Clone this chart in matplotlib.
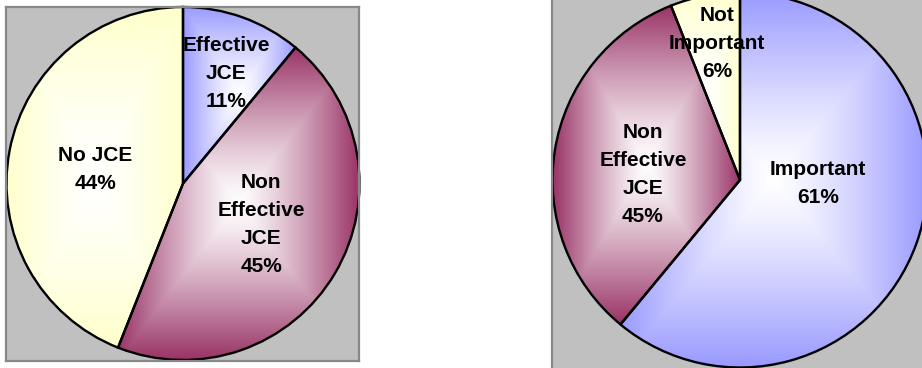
import numpy as np
import matplotlib
matplotlib.use("Agg")
import matplotlib.pyplot as plt
from matplotlib.colors import to_rgb

# data
left_names = ["Effective\nJCE", "Non\nEffective\nJCE", "No JCE"]
left_values = [11, 45, 44]
left_pct = ["11%", "45%", "44%"]

right_names = ["Important", "Non\nEffective\nJCE", "Not\nImportant"]
right_values = [61, 33, 6]
right_pct = ["61%", "45%", "6%"]   # label printed as 45% in the source

slice_colors = ["#9999FF", "#993366", "#FFFFCC"]

W, H = 922, 368
plt.rcParams['font.family'] = ['Liberation Sans', 'DejaVu Sans']


def make_axes(fig, x0, y0, x1, y1):
    # box given in image pixels (top-down), data coords = pixels (bottom-up)
    ax = fig.add_axes([x0 / W, (H - y1) / H, (x1 - x0) / W, (y1 - y0) / H])
    ax.set_facecolor("#C0C0C0")
    for s in ax.spines.values():
        s.set_color("#888888")
        s.set_linewidth(1.6)
    return ax, (x0, x1, H - y1, H - y0)


def gradient_fill(ax, w, color, n=300):
    # rectangular "from centre" gradient over the slice bounding box
    th = np.radians(np.linspace(w.theta1, w.theta2, 400))
    cx, cy = w.center
    xs = np.r_[cx, cx + w.r * np.cos(th)]
    ys = np.r_[cy, cy + w.r * np.sin(th)]
    xmin, xmax, ymin, ymax = xs.min(), xs.max(), ys.min(), ys.max()
    gx, gy = np.meshgrid(np.linspace(-1, 1, n), np.linspace(-1, 1, n))
    t = np.maximum(np.abs(gx), np.abs(gy))[..., None] ** 1.25
    c = np.array(to_rgb(color))
    img = 1.0 + (c - 1.0) * t
    im = ax.imshow(img, extent=[xmin, xmax, ymin, ymax], origin="lower",
                   interpolation="bilinear", aspect="auto", zorder=1)
    im.set_clip_path(w)


def draw_pie(ax, lims, values, names, pct, center, radius, label_pos):
    wedges, _ = ax.pie(values, colors=slice_colors, startangle=90,
                       counterclock=False, center=(center[0], H - center[1]),
                       radius=radius, frame=True,
                       wedgeprops=dict(edgecolor="black", linewidth=1.7))
    for w, col in zip(wedges, slice_colors):
        w.set_facecolor("none")
        w.set_zorder(2)
        gradient_fill(ax, w, col)
    for nm, p, (lx, ly) in zip(names, pct, label_pos):
        ax.text(lx, H - ly, nm + "\n" + p, ha="center", va="center",
                fontsize=15, fontweight="bold", linespacing=1.6,
                color="black", zorder=3)
    ax.set_xlim(lims[0], lims[1])
    ax.set_ylim(lims[2], lims[3])
    ax.set_aspect("auto")
    ax.set_xticks([])
    ax.set_yticks([])


fig = plt.figure(figsize=(W / 100, H / 100), dpi=100)
fig.patch.set_facecolor("white")

axl, liml = make_axes(fig, 6, 7, 359, 361)
draw_pie(axl, liml, left_values, left_names, left_pct,
         center=(183, 183.5), radius=176.5,
         label_pos=[(226, 74), (261, 225), (95, 170)])

axr, limr = make_axes(fig, 552, -8, 940, 378)
draw_pie(axr, limr, right_values, right_names, right_pct,
         center=(740, 180), radius=187.5,
         label_pos=[(818, 184), (643, 175), (717, 44)])

fig.savefig("out.png", dpi=100)
